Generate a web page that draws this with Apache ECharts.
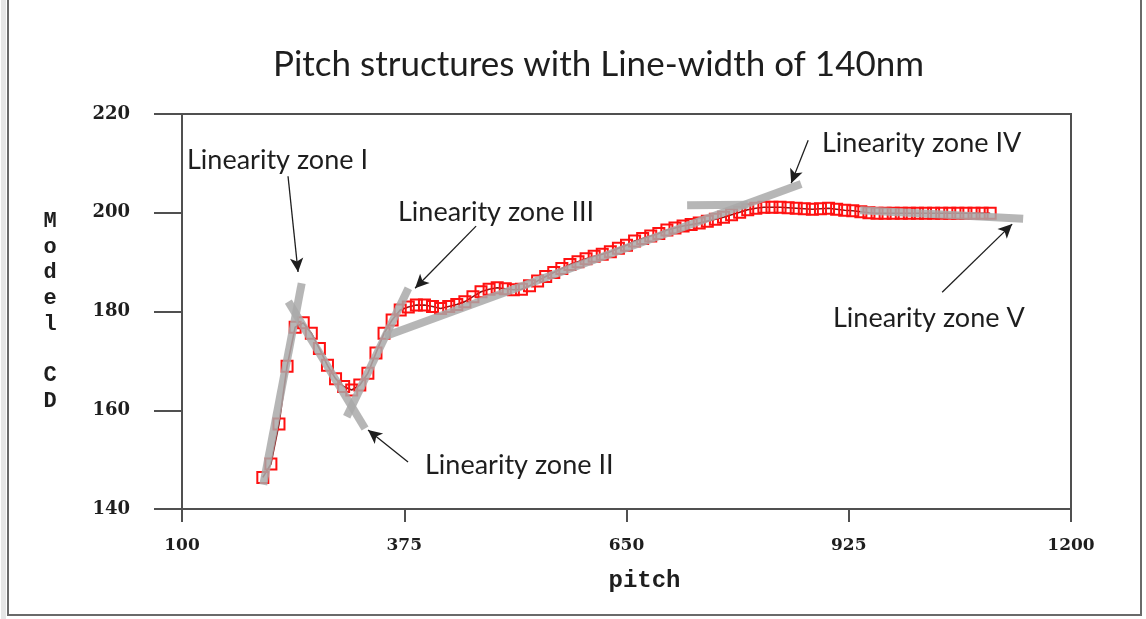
<!DOCTYPE html>
<html><head><meta charset="utf-8">
<script src="https://cdn.jsdelivr.net/npm/echarts@6/dist/echarts.min.js"></script>
<style>html,body{margin:0;padding:0;background:#fff}#c{width:1146px;height:619px}</style>
</head><body><div id="c"></div>
<script>
const titleText = 'Pitch structures with Line-width of 140nm';
const xName = 'pitch';
const yName = 'Model CD';
const xTicks = [100, 375, 650, 925, 1200];
const yTicks = [140, 160, 180, 200, 220];
const pitch = [];
for (let p = 200; p <= 1100; p += 10) pitch.push(p);
const modelCD = [
  146.4, 149.1, 157.2, 168.9, 176.8, 177.7, 175.6, 172.5, 169.1, 166.4,
  164.8, 164.1, 165.1, 167.5, 171.6, 175.6, 178.3, 180.3, 180.9, 181.3,
  181.3, 181.0, 180.6, 181.0, 181.4, 182.0, 183.0, 184.0, 184.5, 184.8,
  184.6, 184.4, 184.5, 185.2, 186.2, 187.1, 187.9, 188.7, 189.5, 190.1,
  190.7, 191.2, 191.6, 192.1, 192.8, 193.4, 194.3, 194.8, 195.3, 195.8,
  196.5, 196.9, 197.3, 197.6, 197.9, 198.3, 198.7, 199.1, 199.6, 200.1,
  200.6, 200.9, 201.1, 201.1, 201.1, 201.0, 200.9, 200.8, 200.7, 200.8,
  200.9, 200.7, 200.5, 200.4, 200.2, 200.0, 199.9, 199.9, 199.9, 199.9,
  199.9, 199.9, 199.9, 199.9, 199.9, 199.9, 199.9, 199.9, 199.9, 199.9,
  199.9
];
// zone fit lines: [x1, y1, x2, y2] in data units
const zoneFits = [
  [200.6, 144.9, 248.1, 185.7],
  [231.6, 182.0, 326.5, 156.3],
  [303.8, 158.7, 380.1, 184.7],
  [351.2, 175.0, 866.1, 205.8],
  [725.0, 201.5, 800.0, 201.6],
  [939.1, 200.5, 1140.8, 198.8]
];
// arrows: [fromX, fromY, toX, toY] in data units
const arrows = [
  [231.2, 207.4, 243.6, 188.0],
  [379.7, 149.5, 330.2, 156.0],
  [463.9, 197.3, 388.4, 184.7],
  [874.8, 214.7, 853.8, 206.0],
  [1040.6, 183.9, 1127.2, 197.7]
];
const zoneLabels = ['Linearity zone I', 'Linearity zone II', 'Linearity zone III', 'Linearity zone IV', 'Linearity zone V'];
const labelPos = [[187, 160], [425, 465], [398, 212], [822, 143], [833, 318]];

const chart = echarts.init(document.getElementById('c'), null, {renderer: 'canvas'});
const annoFont = '27px Lato, "Open Sans", sans-serif';
const graphics = [
  {type: 'rect', shape: {x: 8, y: -10, width: 1133, height: 625}, style: {fill: 'none', stroke: '#6a6a6a', lineWidth: 2}, z: 100},
  {type: 'rect', shape: {x: 1, y: -10, width: 5, height: 630}, style: {fill: '#e6e6e6'}, z: 99}
];
zoneLabels.forEach((t, i) => {
  graphics.push({type: 'text', x: labelPos[i][0], y: labelPos[i][1], style: {text: t, font: annoFont, fill: '#1e1e1e', textVerticalAlign: 'middle'}, z: 50});
});

chart.setOption({
  animation: false,
  backgroundColor: '#fff',
  title: {text: titleText, left: 268, top: 42, textStyle: {fontFamily: 'Lato, "Open Sans", sans-serif', fontSize: 35, fontWeight: 'normal', color: '#1e1e1e'}},
  grid: {left: 182, right: 75, top: 114, bottom: 110, show: true, borderColor: '#505050', borderWidth: 2, containLabel: false},
  xAxis: {
    type: 'value', min: xTicks[0], max: xTicks[xTicks.length - 1], interval: 275,
    name: xName, nameLocation: 'middle', nameGap: 60,
    nameTextStyle: {fontFamily: '"Liberation Mono", monospace', fontWeight: 'bold', fontSize: 24, color: '#1e1e1e', align: 'center', padding: [0, 0, 0, 36]},
    axisLine: {show: true, lineStyle: {color: '#505050', width: 2}},
    axisTick: {show: true, length: 13, lineStyle: {color: '#505050', width: 2}},
    axisLabel: {margin: 28, formatter: v => String(v), fontFamily: '"DejaVu Serif", serif', fontWeight: 'bold', fontSize: 17, color: '#1e1e1e'},
    splitLine: {show: false}
  },
  yAxis: {
    type: 'value', min: yTicks[0], max: yTicks[yTicks.length - 1], interval: 20,
    name: yName.split('').join('\n'), nameLocation: 'middle', nameGap: 132, nameRotate: 0,
    nameTextStyle: {fontFamily: '"Liberation Mono", monospace', fontWeight: 'bold', fontSize: 22, lineHeight: 25.7, color: '#1e1e1e', align: 'center', verticalAlign: 'middle', padding: [24, 0, 0, 0]},
    axisLine: {show: true, lineStyle: {color: '#505050', width: 2}},
    axisTick: {show: true, length: 28, lineStyle: {color: '#505050', width: 2}},
    axisLabel: {margin: 52, fontFamily: '"DejaVu Serif", serif', fontWeight: 'bold', fontSize: 18, color: '#1e1e1e'},
    splitLine: {show: false}
  },
  graphic: graphics,
  series: [
    {
      type: 'line', data: [], z: 1, silent: true,
      markLine: {
        silent: true, symbol: ['none', 'none'], animation: false,
        label: {show: false},
        lineStyle: {color: '#a9a9a9', width: 8, type: 'solid', opacity: 0.85},
        emphasis: {disabled: true},
        data: zoneFits.map(f => [{coord: [f[0], f[1]]}, {coord: [f[2], f[3]]}])
      }
    },
    {
      type: 'line', z: 3, silent: true,
      data: pitch.map((p, i) => [p, modelCD[i]]),
      symbol: 'rect', symbolSize: 11, showAllSymbol: true,
      lineStyle: {color: '#8a1515', width: 1.6},
      itemStyle: {color: 'rgba(0,0,0,0)', borderColor: '#ff1010', borderWidth: 2}
    },
    {
      type: 'line', data: [], z: 4, silent: true,
      markLine: {
        silent: true, symbol: ['none', 'arrow'], symbolSize: [10, 14], animation: false,
        label: {show: false},
        lineStyle: {color: '#1e1e1e', width: 1.3, type: 'solid'},
        emphasis: {disabled: true},
        data: arrows.map(a => [{coord: [a[0], a[1]]}, {coord: [a[2], a[3]]}])
      }
    }
  ]
});
</script></body></html>
